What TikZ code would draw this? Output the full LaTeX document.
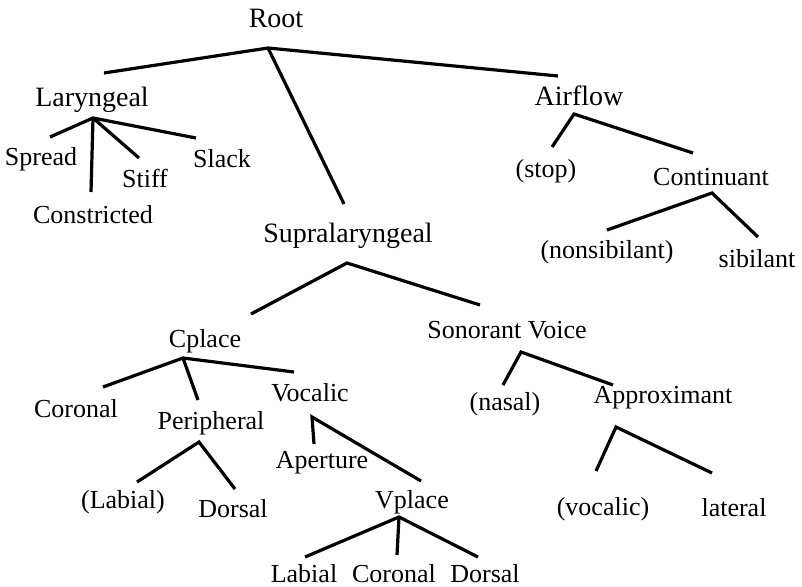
\documentclass[tikz,border=0pt]{standalone}
\usepackage{fontspec}
\setmainfont{Liberation Serif}
\begin{document}
\begin{tikzpicture}[x=1pt,y=-1pt,
  lbl/.style={anchor=base,inner sep=0pt,font=\fontsize{26}{30}\selectfont},
  big/.style={lbl,font=\fontsize{28}{32}\selectfont},
  branch/.style={line width=3.2pt,line join=miter}]
\useasboundingbox[fill=white] (0,0) rectangle (802,586);
% labels
\node[big] (root) at (276,28) {Root};
\node[big] (laryngeal) at (92,106) {Laryngeal};
\node[big] (airflow) at (579,105) {Airflow};
\node[big] (supra) at (348,242) {Supralaryngeal};
\node[lbl] (spread) at (41,165) {Spread};
\node[lbl] (stiff) at (145,187) {Stiff};
\node[lbl] (slack) at (222,167) {Slack};
\node[lbl] (constricted) at (93,223) {Constricted};
\node[lbl] (stop) at (546,177) {(stop)};
\node[lbl] (continuant) at (711,185) {Continuant};
\node[lbl] (nonsib) at (607,258) {(nonsibilant)};
\node[lbl] (sibilant) at (757,267) {sibilant};
\node[lbl] (cplace) at (205,347) {Cplace};
\node[lbl] (sonorant) at (507,338) {Sonorant Voice};
\node[lbl] (coronalA) at (76,417) {Coronal};
\node[lbl] (peripheral) at (211,429) {Peripheral};
\node[lbl] (vocalic) at (310,401) {Vocalic};
\node[lbl] (labialA) at (123,508) {(Labial)};
\node[lbl] (dorsalA) at (233,517) {Dorsal};
\node[lbl] (aperture) at (322,468) {Aperture};
\node[lbl] (vplace) at (412,508) {Vplace};
\node[lbl] (labialB) at (304,582) {Labial};
\node[lbl] (coronalB) at (394,582) {Coronal};
\node[lbl] (dorsalB) at (485,582) {Dorsal};
\node[lbl] (nasal) at (505,410) {(nasal)};
\node[lbl] (approx) at (663,403) {Approximant};
\node[lbl] (vocalicB) at (603,515) {(vocalic)};
\node[lbl] (lateral) at (734,516) {lateral};
% branch points and line ends
\coordinate (rootB) at (268,48);
\coordinate (rootL) at (104,73);
\coordinate (rootS) at (344,204);
\coordinate (rootA) at (558,76);
\coordinate (larB) at (93,118);
\coordinate (larSp) at (50,137);
\coordinate (larCo) at (91,192);
\coordinate (larSt) at (139,158);
\coordinate (larSl) at (196,138);
\coordinate (airB) at (574,114);
\coordinate (airS) at (552,147);
\coordinate (airC) at (693,153);
\coordinate (conB) at (712,193);
\coordinate (conN) at (607,230);
\coordinate (conS) at (758,237);
\coordinate (supB) at (347,263);
\coordinate (supC) at (251,314);
\coordinate (supS) at (480,305);
\coordinate (cplB) at (183,358);
\coordinate (cplC) at (103,387);
\coordinate (cplP) at (198,400);
\coordinate (cplV) at (294,372);
\coordinate (perB) at (199,442);
\coordinate (perL) at (137,482);
\coordinate (perD) at (235,489);
\coordinate (vocB) at (312,417);
\coordinate (vocA) at (314,444);
\coordinate (vocV) at (421,481);
\coordinate (vplB) at (399,517);
\coordinate (vplL) at (305,557);
\coordinate (vplC) at (397,555);
\coordinate (vplD) at (478,557);
\coordinate (sonB) at (521,352);
\coordinate (sonN) at (503,385);
\coordinate (sonA) at (613,385);
\coordinate (appB) at (616,427);
\coordinate (appV) at (596,471);
\coordinate (appL) at (712,473);
% connectors
\draw[branch] (rootL) -- (rootB) -- (rootA);
\draw[branch] (rootB) -- (rootS);
\draw[branch] (larSp) -- (larB) -- (larSl);
\draw[branch] (larB) -- (larCo);
\draw[branch] (larB) -- (larSt);
\draw[branch] (airS) -- (airB) -- (airC);
\draw[branch] (conN) -- (conB) -- (conS);
\draw[branch] (supC) -- (supB) -- (supS);
\draw[branch] (cplC) -- (cplB) -- (cplV);
\draw[branch] (cplB) -- (cplP);
\draw[branch] (perL) -- (perB) -- (perD);
\draw[branch] (vocA) -- (vocB) -- (vocV);
\draw[branch] (vplL) -- (vplB) -- (vplD);
\draw[branch] (vplB) -- (vplC);
\draw[branch] (sonN) -- (sonB) -- (sonA);
\draw[branch] (appV) -- (appB) -- (appL);
\end{tikzpicture}
\end{document}
